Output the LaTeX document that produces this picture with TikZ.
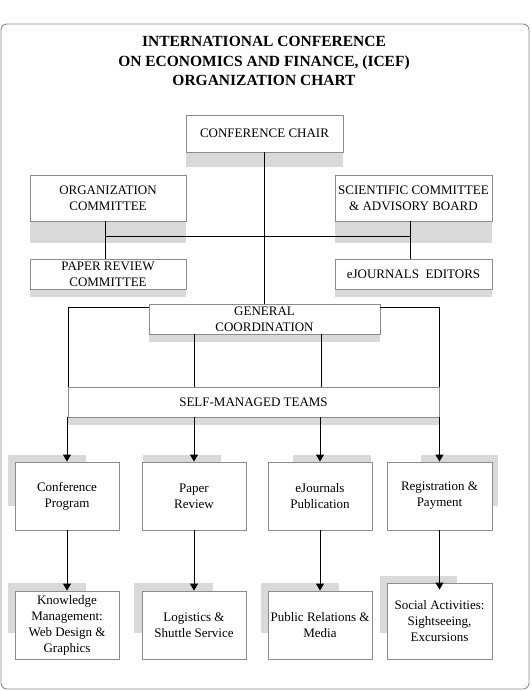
\documentclass[tikz,border=0pt]{standalone}
\usepackage{fontspec}
\setmainfont{Liberation Serif}
\usetikzlibrary{arrows.meta}
\definecolor{shadowgray}{HTML}{D9D9D9}
\definecolor{edge}{HTML}{8C8C8C}
\tikzset{
  box/.style={draw=edge, line width=0.9pt, fill=white, inner sep=0pt, align=center,
    font=\fontsize{13}{16}\selectfont},
  conn/.style={draw=black, line width=1pt},
  arr/.style={conn, -{Triangle[length=7pt,width=8pt]}},
  shadowbox/.style={fill=shadowgray, draw=none},
}
\begin{document}
\begin{tikzpicture}[x=1pt,y=-1pt]
\useasboundingbox (0,0) rectangle (531,691);
\draw[edge, line width=0.9pt, rounded corners=6pt] (1,24) rectangle (529,689);
\node[font=\bfseries\fontsize{15.5}{19.5}\selectfont, align=center] (title) at (264,61)
  {INTERNATIONAL CONFERENCE\\ON ECONOMICS AND FINANCE, (ICEF)\\ORGANIZATION CHART};
% shadows
\path[shadowbox] (186,152) rectangle (343,167);
\path[shadowbox] (30,221) rectangle (186,243);
\path[shadowbox] (335,221) rectangle (492,243);
\path[shadowbox] (30,289) rectangle (186,297);
\path[shadowbox] (335,289) rectangle (492,297);
\path[shadowbox] (149,334) rectangle (380,342);
\path[shadowbox] (68,417) rectangle (439,425);
\path[shadowbox] (8,455) rectangle (86,506);
\path[shadowbox] (143,455) rectangle (221,506);
\path[shadowbox] (293,455) rectangle (371,506);
\path[shadowbox] (421,455) rectangle (498,506);
\path[shadowbox] (8,583) rectangle (86,633);
\path[shadowbox] (134,583) rectangle (213,633);
\path[shadowbox] (261,583) rectangle (339,633);
\path[shadowbox] (380,576) rectangle (457,633);
% boxes
\node[box, minimum width=157pt, minimum height=37pt] (chair) at (264.5,133.5) {CONFERENCE CHAIR};
\node[box, minimum width=156pt, minimum height=46pt] (org) at (108,198) {ORGANIZATION\\COMMITTEE};
\node[box, minimum width=157pt, minimum height=46pt] (sci) at (413.5,198) {SCIENTIFIC COMMITTEE\\\& ADVISORY BOARD};
\node[box, minimum width=156pt, minimum height=30pt] (prc) at (108,274) {PAPER REVIEW\\COMMITTEE};
\node[box, minimum width=157pt, minimum height=30pt] (ejed) at (413.5,274) {eJOURNALS\ \ EDITORS};
\node[box, minimum width=231pt, minimum height=30pt] (gc) at (264.5,319) {GENERAL\\COORDINATION};
\node[box, minimum width=371pt, minimum height=30pt] (smt) at (253.5,402) {SELF-MANAGED TEAMS};
\node[box, minimum width=104pt, minimum height=68pt] (t1) at (67,496) {Conference\\Program};
\node[box, minimum width=104pt, minimum height=68pt] (t2) at (194,496) {Paper\\Review};
\node[box, minimum width=104pt, minimum height=68pt] (t3) at (320,496) {eJournals\\Publication};
\node[box, minimum width=105pt, minimum height=68pt] (t4) at (439.5,496) {Registration \&\\Payment};
\node[box, minimum width=104pt, minimum height=68pt] (s1) at (67,625) {Knowledge\\Management:\\Web Design \&\\Graphics};
\node[box, minimum width=104pt, minimum height=68pt] (s2) at (194,625) {Logistics \&\\Shuttle Service};
\node[box, minimum width=104pt, minimum height=68pt] (s3) at (320,625) {Public Relations \&\\Media};
\node[box, minimum width=105pt, minimum height=76pt] (s4) at (439.5,621) {Social Activities:\\Sightseeing,\\Excursions};
% connector helpers
\coordinate (hl) at (105,236);
\coordinate (hr) at (410,236);
\coordinate (gl) at (68,307);
\coordinate (gr) at (439,307);
\coordinate (vl) at (194,0);
\coordinate (vr) at (321,0);
% connectors
\draw[conn] (chair.south) -- (gc.north);
\draw[conn] (hl) -- (hr);
\draw[conn] (org.south -| hl) -- (prc.north -| hl);
\draw[conn] (sci.south -| hr) -- (ejed.north -| hr);
\draw[conn] (gc.west |- gl) -- (gl) -- (gl |- smt.north);
\draw[conn] (gc.east |- gr) -- (gr) -- (gr |- smt.north);
\draw[conn] (gc.south -| vl) -- (smt.north -| vl);
\draw[conn] (gc.south -| vr) -- (smt.north -| vr);
\draw[arr] (smt.south -| t1.north) -- (t1.north);
\draw[arr] (smt.south -| t2.north) -- (t2.north);
\draw[arr] (smt.south -| t3.north) -- (t3.north);
\draw[arr] (smt.south -| t4.north) -- (t4.north);
\draw[arr] (t1.south) -- (s1.north);
\draw[arr] (t2.south) -- (s2.north);
\draw[arr] (t3.south) -- (s3.north);
\draw[arr, shorten >=-7pt] (t4.south) -- (s4.north);
\end{tikzpicture}
\end{document}
